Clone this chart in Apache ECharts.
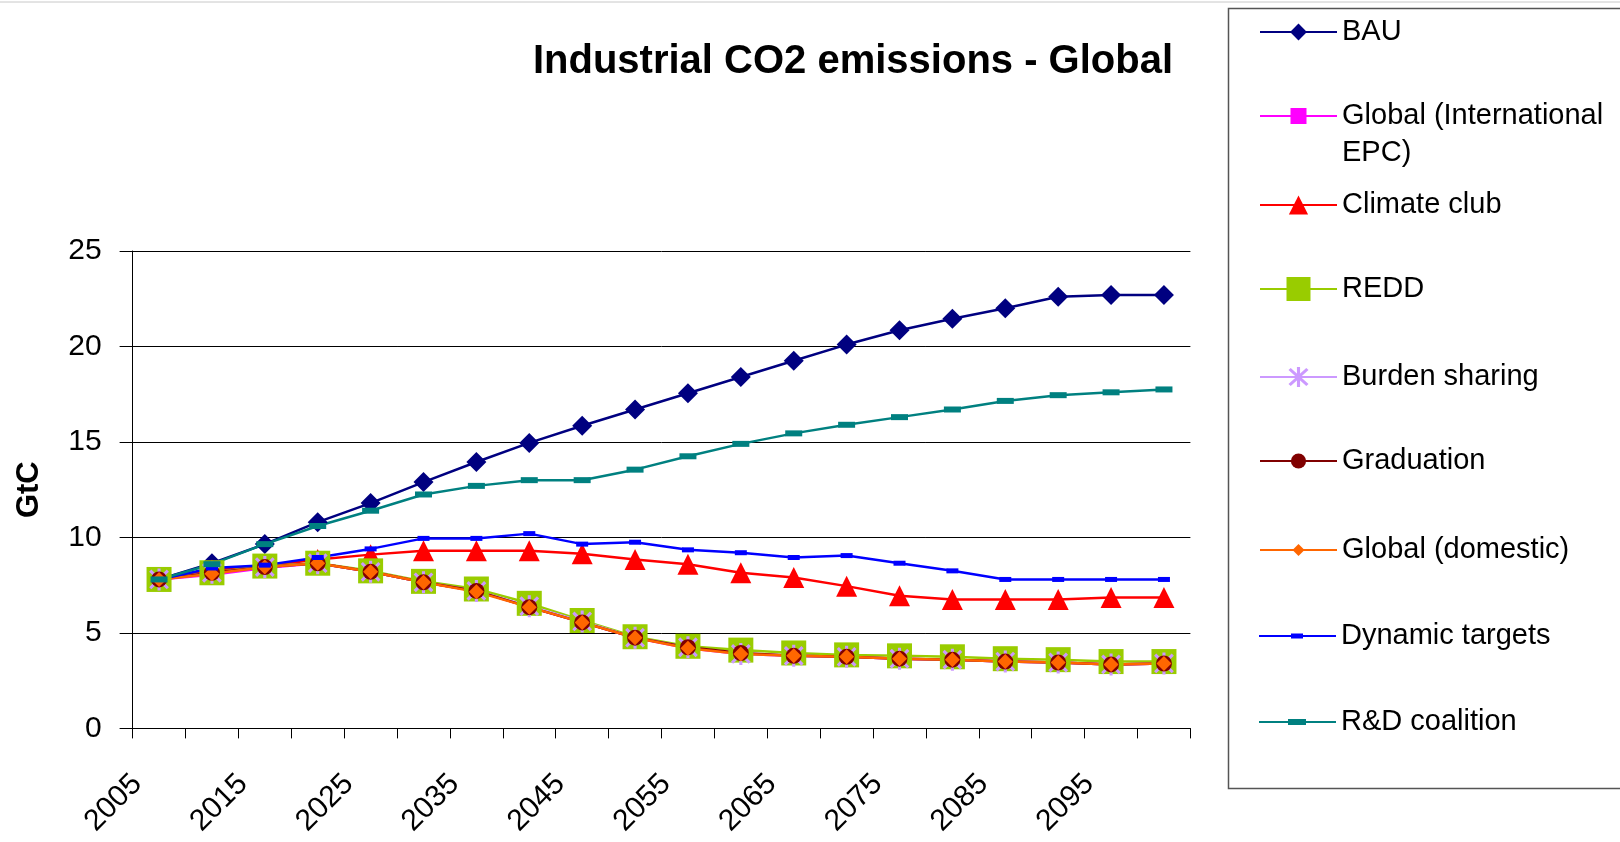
<!DOCTYPE html>
<html>
<head>
<meta charset="utf-8">
<script src="https://cdn.jsdelivr.net/npm/echarts@6/dist/echarts.min.js"></script>
<style>
html, body { margin: 0; padding: 0; background: #ffffff; }
#chart { width: 1620px; height: 842px; }
</style>
</head>
<body>
<div id="chart"></div>
<script>
// Five-year steps, one point per category
const years = ['2005', '2010', '2015', '2020', '2025', '2030', '2035', '2040', '2045', '2050',
               '2055', '2060', '2065', '2070', '2075', '2080', '2085', '2090', '2095', '2100'];

// Emissions in GtC per scenario
const bau            = [7.8, 8.65, 9.65, 10.8, 11.8, 12.9, 13.95, 14.95, 15.85, 16.7, 17.55, 18.4, 19.25, 20.1, 20.85, 21.45, 22.0, 22.6, 22.7, 22.7];
const globalIntl     = [7.8, 8.05, 8.4, 8.65, 8.2, 7.65, 7.2, 6.35, 5.55, 4.75, 4.2, 3.9, 3.8, 3.75, 3.65, 3.6, 3.5, 3.45, 3.35, 3.4];
const climateClub    = [7.8, 8.3, 8.5, 8.85, 9.1, 9.3, 9.3, 9.3, 9.15, 8.85, 8.6, 8.15, 7.9, 7.45, 6.95, 6.75, 6.75, 6.75, 6.85, 6.85];
const redd           = [7.8, 8.15, 8.5, 8.65, 8.25, 7.7, 7.3, 6.55, 5.65, 4.8, 4.3, 4.1, 3.95, 3.85, 3.8, 3.75, 3.65, 3.6, 3.5, 3.5];
const burdenSharing  = [7.8, 8.15, 8.45, 8.65, 8.2, 7.65, 7.2, 6.4, 5.6, 4.75, 4.25, 3.9, 3.8, 3.75, 3.65, 3.6, 3.5, 3.45, 3.35, 3.4];
const graduation     = [7.8, 8.15, 8.45, 8.65, 8.2, 7.65, 7.2, 6.35, 5.55, 4.75, 4.25, 3.95, 3.8, 3.75, 3.65, 3.6, 3.5, 3.45, 3.35, 3.4];
const globalDomestic = [7.8, 8.1, 8.45, 8.65, 8.2, 7.65, 7.15, 6.35, 5.55, 4.75, 4.2, 3.9, 3.8, 3.75, 3.65, 3.6, 3.5, 3.45, 3.35, 3.4];
const dynamicTargets = [7.8, 8.4, 8.55, 8.95, 9.4, 9.95, 9.95, 10.2, 9.65, 9.75, 9.35, 9.2, 8.95, 9.05, 8.65, 8.25, 7.8, 7.8, 7.8, 7.8];
const rdCoalition    = [7.8, 8.6, 9.65, 10.6, 11.4, 12.25, 12.7, 13.0, 13.0, 13.55, 14.25, 14.9, 15.45, 15.9, 16.3, 16.7, 17.15, 17.45, 17.6, 17.75];

const seriesNames = ['BAU', 'Global (International EPC)', 'Climate club', 'REDD', 'Burden sharing',
                     'Graduation', 'Global (domestic)', 'Dynamic targets', 'R&D coalition'];
const yTicks = { min: 0, max: 25, step: 5 };

const FONT = '"Liberation Sans", Arial, sans-serif';

// Six-armed asterisk marker
const ASTERISK = 'path://M4.3,0h1.4v10h-1.4z M0.5,1.5L1.5,0.5L9.5,8.5L8.5,9.5z M8.5,0.5L9.5,1.5L1.5,9.5L0.5,8.5z';

const styles = [
  { data: bau,            color: '#000080', symbol: 'diamond',  size: 20,      legendH: 21 },
  { data: globalIntl,     color: '#FF00FF', symbol: 'rect',     size: 10,      legendH: 20 },
  { data: climateClub,    color: '#FF0000', symbol: 'triangle', size: 21,      legendH: 24 },
  { data: redd,           color: '#99CC00', symbol: 'rect',     size: 25,      legendH: 30 },
  { data: burdenSharing,  color: '#CC99FF', symbol: ASTERISK,   size: 22,      legendH: 25 },
  { data: graduation,     color: '#800000', symbol: 'circle',   size: 16,      legendH: 19 },
  { data: globalDomestic, color: '#FF6600', symbol: 'diamond',  size: 15,      legendH: 15 },
  { data: dynamicTargets, color: '#0000FF', symbol: 'rect',     size: [12, 5], legendH: 5,
    icon: 'path://M0,4h77v2h-77z M32,2.5h12v5h-12z' },
  { data: rdCoalition,    color: '#008080', symbol: 'rect',     size: [17, 6], legendH: 6,
    icon: 'path://M0,5h77v2h-77z M29,3h18v6h-18z' }
];

// Vertical centres of the legend rows
const legendRowY = [32, 116, 205, 289, 377, 461, 550, 636, 722];

const series = seriesNames.map((name, i) => ({
  name: name,
  type: 'line',
  data: styles[i].data,
  symbol: styles[i].symbol,
  symbolSize: styles[i].size,
  showSymbol: true,
  showAllSymbol: true,
  symbolKeepAspect: true,
  lineStyle: { color: styles[i].color, width: 2.5 },
  itemStyle: { color: styles[i].color },
  emphasis: { disabled: true },
  animation: false
}));

const LINE_H = 30;
const WRAP_LINE_H = 37;
const legends = seriesNames.map((name, i) => {
  const multi = name === 'Global (International EPC)';
  // the wrapped label keeps its first line level with the marker: a blank
  // leading line balances the trailing one around the centre
  const lineH = multi ? WRAP_LINE_H : LINE_H;
  const blockH = multi ? lineH * 3 : lineH;
  const item = { name: name };
  if (styles[i].icon) item.icon = styles[i].icon;
  return {
    orient: 'vertical',
    left: 1259,
    top: legendRowY[i] - blockH / 2,
    padding: 0,
    itemWidth: 77,
    itemHeight: styles[i].legendH,
    selectedMode: false,
    data: [item],
    formatter: multi ? () => ' \nGlobal (International\nEPC)' : undefined,
    textStyle: {
      fontFamily: FONT,
      fontSize: 29,
      color: '#000',
      lineHeight: lineH
    }
  };
});

const chart = echarts.init(document.getElementById('chart'), null, { renderer: 'canvas' });

chart.setOption({
  backgroundColor: '#ffffff',
  animation: false,
  title: {
    text: 'Industrial CO2 emissions - Global',
    left: 853,
    top: 40,
    padding: 0,
    textAlign: 'center',
    textStyle: { fontFamily: FONT, fontSize: 40, fontWeight: 'bold', color: '#000', lineHeight: 44 }
  },
  grid: { left: 132.6, right: 429.6, top: 251, bottom: 113.6, containLabel: false },
  xAxis: {
    type: 'category',
    data: years,
    boundaryGap: true,
    axisLine: { show: true, lineStyle: { color: '#000', width: 1 } },
    axisTick: { show: true, interval: 0, length: 10, lineStyle: { color: '#000', width: 1 } },
    axisLabel: {
      interval: 1,
      rotate: 45,
      margin: 29,
      padding: [0, 31, 0, 0],
      fontFamily: FONT,
      fontSize: 30,
      color: '#000'
    },
    splitLine: { show: false }
  },
  yAxis: {
    type: 'value',
    min: yTicks.min,
    max: yTicks.max,
    interval: yTicks.step,
    name: 'GtC',
    nameLocation: 'middle',
    nameRotate: 90,
    nameGap: 88,
    nameTextStyle: { fontFamily: FONT, fontSize: 31, fontWeight: 'bold', color: '#000' },
    axisLine: { show: true, lineStyle: { color: '#000', width: 1 } },
    axisTick: { show: true, length: 13, lineStyle: { color: '#000', width: 1 } },
    axisLabel: { margin: 31, fontFamily: FONT, fontSize: 30, color: '#000' },
    splitLine: { show: true, lineStyle: { color: '#000', width: 1 } }
  },
  legend: legends,
  series: series,
  graphic: [
    {
      type: 'line',
      shape: { x1: 0, y1: 2, x2: 1620, y2: 2 },
      style: { stroke: '#c8c8c8', lineWidth: 1 },
      silent: true
    },
    {
      type: 'rect',
      shape: { x: 1228.5, y: 8.5, width: 420, height: 780 },
      style: { fill: 'none', stroke: '#555555', lineWidth: 1.5 },
      silent: true
    }
  ]
});
</script>
</body>
</html>
